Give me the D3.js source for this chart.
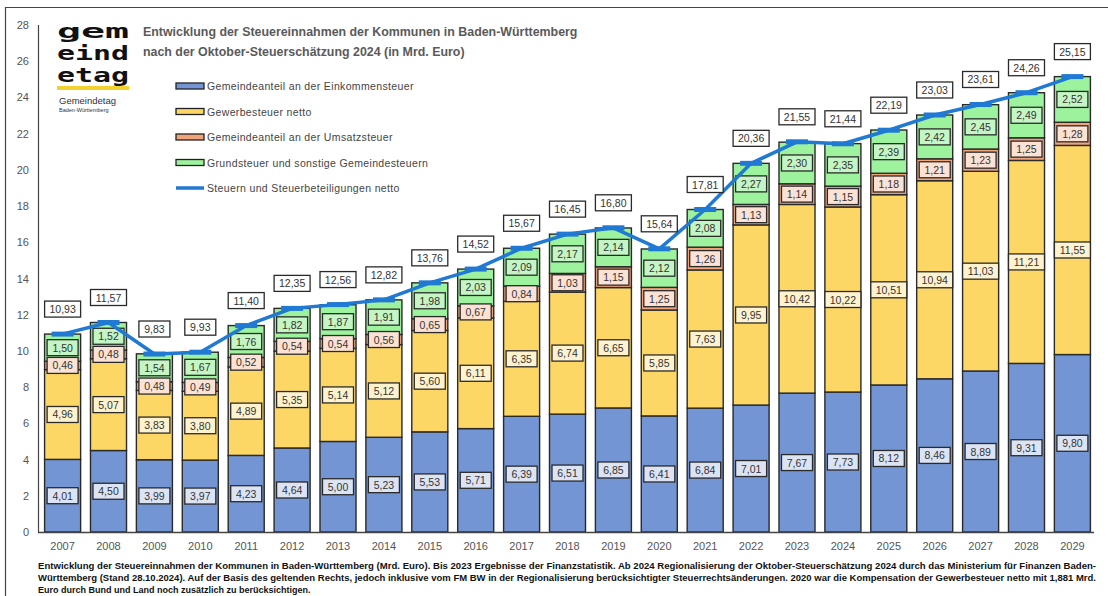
<!DOCTYPE html>
<html>
<head>
<meta charset="utf-8">
<script src="https://cdn.jsdelivr.net/npm/d3@7"></script>
<style>
  body { margin: 0; background: #fff; }
  svg text { font-family: "Liberation Sans", Arial, sans-serif; }
</style>
</head>
<body>
<div id="graphicContainer"></div>
<script>
var years = ["2007","2008","2009","2010","2011","2012","2013","2014","2015","2016","2017","2018","2019","2020","2021","2022","2023","2024","2025","2026","2027","2028","2029"];
var einkommen = [4.01,4.50,3.99,3.97,4.23,4.64,5.00,5.23,5.53,5.71,6.39,6.51,6.85,6.41,6.84,7.01,7.67,7.73,8.12,8.46,8.89,9.31,9.80];
var gewerbe = [4.96,5.07,3.83,3.80,4.89,5.35,5.14,5.12,5.60,6.11,6.35,6.74,6.65,5.85,7.63,9.95,10.42,10.22,10.51,10.94,11.03,11.21,11.55];
var umsatz = [0.46,0.48,0.48,0.49,0.52,0.54,0.54,0.56,0.65,0.67,0.84,1.03,1.15,1.25,1.26,1.13,1.14,1.15,1.18,1.21,1.23,1.25,1.28];
var grund = [1.50,1.52,1.54,1.67,1.76,1.82,1.87,1.91,1.98,2.03,2.09,2.17,2.14,2.12,2.08,2.27,2.30,2.35,2.39,2.42,2.45,2.49,2.52];
var gesamt = [10.93,11.57,9.83,9.93,11.40,12.35,12.56,12.82,13.76,14.52,15.67,16.45,16.80,15.64,17.81,20.36,21.55,21.44,22.19,23.03,23.61,24.26,25.15];
var yTicks = [0,2,4,6,8,10,12,14,16,18,20,22,24,26,28];

var seriesNames = ["Gemeindeanteil an der Einkommensteuer","Gewerbesteuer netto","Gemeindeanteil an der Umsatzsteuer","Grundsteuer und sonstige Gemeindesteuern"];
var lineName = "Steuern und Steuerbeteiligungen netto";

var fills = ["#7395d3","#fdd766","#f0a47a","#9df29d"];
var labelFills = ["#dce4f4","#fff3cf","#fbe2d4","#c4f5c4"];
var lineColor = "#2079d2";

var fmt = function(v) { return d3.format(".2f")(v).replace(".", ","); };

var width = 1108, height = 596;
var svg = d3.select("#graphicContainer").append("svg")
  .attr("width", width).attr("height", height);

// frame
svg.append("path")
  .attr("d", "M5.5,596 L5.5,7.5 L1110,7.5")
  .attr("fill", "none").attr("stroke", "#444").attr("stroke-width", 1.2);

var x = d3.scaleBand().domain(years).range([40, 1095]).paddingInner(0.215).paddingOuter(0.1);
var y = d3.scaleLinear().domain([0, 28]).range([532, 25]);

// y axis labels
svg.append("g").selectAll("text").data(yTicks).enter().append("text")
  .attr("x", 29).attr("y", function(d) { return y(d) + 4; })
  .attr("text-anchor", "end").attr("font-size", 11).attr("fill", "#555")
  .text(function(d) { return d; });

// stacked data
var rows = years.map(function(yr, i) {
  return { year: yr, s0: einkommen[i], s1: gewerbe[i], s2: umsatz[i], s3: grund[i] };
});
var stack = d3.stack().keys(["s0","s1","s2","s3"]);
var stacked = stack(rows);

var layers = svg.append("g").selectAll("g").data(stacked).enter().append("g")
  .attr("fill", function(d, i) { return fills[i]; });

layers.selectAll("rect").data(function(d) { return d; }).enter().append("rect")
  .attr("x", function(d) { return x(d.data.year); })
  .attr("width", x.bandwidth())
  .attr("y", function(d) { return y(d[1]); })
  .attr("height", function(d) { return y(d[0]) - y(d[1]); })
  .attr("stroke", "#2a2a2a").attr("stroke-width", 1.4);

// axes lines
svg.append("line").attr("x1", 38.5).attr("x2", 38.5).attr("y1", 25).attr("y2", 532)
  .attr("stroke", "#444").attr("stroke-width", 1.2);
svg.append("line").attr("x1", 38).attr("x2", 1094).attr("y1", 532.5).attr("y2", 532.5)
  .attr("stroke", "#444").attr("stroke-width", 1.4);

// year labels
svg.append("g").selectAll("text").data(years).enter().append("text")
  .attr("x", function(d) { return x(d) + x.bandwidth() / 2; })
  .attr("y", 550).attr("text-anchor", "middle")
  .attr("font-size", 11).attr("fill", "#555")
  .text(function(d) { return d; });

// segment labels
function boxLabel(g, cx, cy, txt, bg) {
  var w = txt.length > 4 ? 36 : 31;
  g.append("rect").attr("x", cx - w / 2).attr("y", cy - 8).attr("width", w).attr("height", 16)
    .attr("fill", bg).attr("stroke", "#2a2a2a").attr("stroke-width", 1.3);
  g.append("text").attr("x", cx).attr("y", cy + 4).attr("text-anchor", "middle")
    .attr("font-size", 10.5).attr("fill", "#333").text(txt);
}

var labelsG = svg.append("g");
stacked.forEach(function(layer, li) {
  layer.forEach(function(d) {
    var cx = x(d.data.year) + x.bandwidth() / 2;
    var cy = (y(d[0]) + y(d[1])) / 2;
    boxLabel(labelsG, cx, cy, fmt(d[1] - d[0]), labelFills[li]);
  });
});

// total line
var line = d3.line()
  .x(function(d, i) { return x(years[i]) + x.bandwidth() / 2; })
  .y(function(d) { return y(d); });
svg.append("path").datum(gesamt).attr("d", line)
  .attr("fill", "none").attr("stroke", lineColor).attr("stroke-width", 3.5)
  .attr("stroke-linejoin", "round");
svg.append("g").selectAll("rect").data(gesamt).enter().append("rect")
  .attr("x", function(d, i) { return x(years[i]) + x.bandwidth() / 2 - 11; })
  .attr("y", function(d) { return y(d) - 2.5; })
  .attr("width", 22).attr("height", 5)
  .attr("fill", lineColor);

// total labels
var totG = svg.append("g");
gesamt.forEach(function(v, i) {
  var cx = x(years[i]) + x.bandwidth() / 2;
  var cy = y(v) - 25;
  boxLabel(totG, cx, cy, fmt(v), "#fff");
});

// title
var title = svg.append("text").attr("x", 143).attr("y", 36)
  .attr("font-size", 12.4).attr("font-weight", "bold").attr("fill", "#5a5a5a");
title.append("tspan").attr("x", 143).attr("dy", 0).text("Entwicklung der Steuereinnahmen der Kommunen in Baden-Württemberg");
title.append("tspan").attr("x", 143).attr("dy", 20).text("nach der Oktober-Steuerschätzung 2024 (in Mrd. Euro)");

// logo
var logo = svg.append("g");
var logoRows = ["gem", "eind", "etag"];
logo.append("g").selectAll("text").data(logoRows).enter().append("text")
  .attr("x", 57).attr("y", function(d, i) { return 38 + i * 22; })
  .attr("textLength", 72).attr("lengthAdjust", "spacingAndGlyphs")
  .attr("font-size", 19).attr("font-weight", "bold").attr("fill", "#111")
  .style("font-family", "'DejaVu Sans Mono', monospace")
  .text(function(d) { return d; });
logo.append("rect").attr("x", 57).attr("y", 86).attr("width", 72).attr("height", 4).attr("fill", "#f2d22e");
logo.append("text").attr("x", 59).attr("y", 104).attr("font-size", 9.5).attr("fill", "#333").text("Gemeindetag");
logo.append("text").attr("x", 59).attr("y", 112).attr("font-size", 5.5).attr("fill", "#333").text("Baden-Württemberg");

// legend
var legendItems = seriesNames.concat([lineName]);
var legend = svg.append("g");
legendItems.forEach(function(name, i) {
  var ly = 86 + i * 25.5;
  if (i < 4) {
    legend.append("rect").attr("x", 176).attr("y", ly - 3).attr("width", 28).attr("height", 6)
      .attr("fill", fills[i]).attr("stroke", "#222").attr("stroke-width", 1.3);
  } else {
    legend.append("line").attr("x1", 176).attr("x2", 204).attr("y1", ly).attr("y2", ly)
      .attr("stroke", lineColor).attr("stroke-width", 3.5);
  }
  legend.append("text").attr("x", 207).attr("y", ly + 4).attr("font-size", 10.5)
    .attr("letter-spacing", 0.35).attr("fill", "#444").text(name);
});

// footnote
var notes = [
  "Entwicklung der Steuereinnahmen der Kommunen in Baden-Württemberg (Mrd. Euro). Bis 2023 Ergebnisse der Finanzstatistik. Ab 2024 Regionalisierung der Oktober-Steuerschätzung 2024 durch das Ministerium für Finanzen Baden-",
  "Württemberg (Stand 28.10.2024). Auf der Basis des geltenden Rechts, jedoch inklusive vom FM BW in der Regionalisierung berücksichtigter Steuerrechtsänderungen. 2020 war die Kompensation der Gewerbesteuer netto mit 1,881 Mrd.",
  "Euro durch Bund und Land noch zusätzlich zu berücksichtigen."
];
var noteLens = [1058, 1058, null];
notes.forEach(function(t, i) {
  var tx = svg.append("text").attr("x", 38).attr("y", 569 + i * 12)
    .attr("font-size", 9).attr("font-weight", "bold").attr("fill", "#111").text(t);
  if (noteLens[i]) tx.attr("textLength", noteLens[i]).attr("lengthAdjust", "spacingAndGlyphs");
});
</script>
</body>
</html>
